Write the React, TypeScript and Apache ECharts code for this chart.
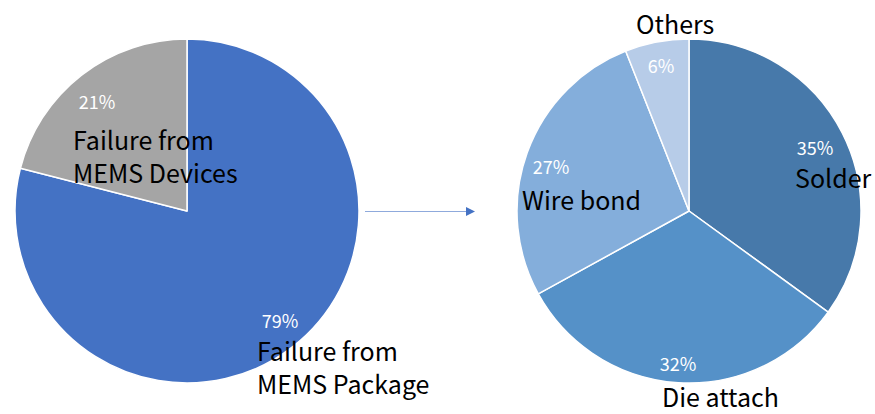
import React, { useEffect, useRef } from "react";
import * as echarts from "echarts";

const leftNames = ["Failure from\nMEMS Package", "Failure from\nMEMS Devices"];
const leftValues = [79, 21];
const leftColors = ["#4472C4", "#A5A5A5"];

const rightNames = ["Solder", "Die attach", "Wire bond", "Others"];
const rightValues = [35, 32, 27, 6];
const rightColors = ["#4779AA", "#5591C8", "#84AEDB", "#B7CCE8"];

// label anchor positions (pixel), [x, y, align]
const leftPctPos: [number, number, string][] = [
  [280, 320, "center"],
  [97, 101, "center"],
];
const leftNamePos: [number, number, string][] = [
  [257, 366, "left"],
  [73, 155, "left"],
];
const rightPctPos: [number, number, string][] = [
  [815, 147, "center"],
  [678, 363, "center"],
  [551, 166, "center"],
  [661, 65, "center"],
];
const rightNamePos: [number, number, string][] = [
  [795, 177, "left"],
  [662, 396, "left"],
  [522, 199, "left"],
  [636, 23, "left"],
];

const FONT = "'Noto Sans CJK SC', 'Noto Sans', sans-serif";

function layoutFrom(pos: [number, number, string][]) {
  return (params: any) => {
    const p = pos[params.dataIndex];
    return { x: p[0], y: p[1], align: p[2], verticalAlign: "middle", hideOverlap: false, moveOverlap: false };
  };
}

function pctSeries(center: number[], names: string[], values: number[], colors: string[], pos: any) {
  return {
    type: "pie",
    center,
    radius: 172,
    startAngle: 90,
    clockwise: true,
    silent: true,
    data: names.map((n, i) => ({ name: n, value: values[i], itemStyle: { color: colors[i] } })),
    itemStyle: { borderColor: "#ffffff", borderWidth: 1.5 },
    label: {
      show: true,
      position: "inside",
      overflow: "none",
      formatter: (p: any) => p.value + "%",
      color: "#ffffff",
      fontSize: 18,
      lineHeight: 18,
      fontFamily: FONT,
    },
    labelLine: { show: false },
    labelLayout: layoutFrom(pos),
    emphasis: { disabled: true },
  };
}

function nameSeries(center: number[], names: string[], values: number[], pos: any, lineHeight: number) {
  return {
    type: "pie",
    center,
    radius: 172,
    startAngle: 90,
    clockwise: true,
    silent: true,
    z: 5,
    data: names.map((n, i) => ({ name: n, value: values[i] })),
    itemStyle: { color: "rgba(0,0,0,0)", borderWidth: 0 },
    label: {
      show: true,
      position: "inside",
      overflow: "none",
      formatter: "{b}",
      color: "#000000",
      fontSize: 25,
      lineHeight,
      fontFamily: FONT,
    },
    labelLine: { show: false },
    labelLayout: layoutFrom(pos),
    emphasis: { disabled: true },
  };
}

export default function App() {
  const ref = useRef<HTMLDivElement>(null);
  useEffect(() => {
    document.body.style.margin = "0";
    const chart = echarts.init(ref.current!, null, { renderer: "svg" });
    chart.setOption({
      animation: false,
      backgroundColor: "#ffffff",
      series: [
        pctSeries([187, 211], leftNames, leftValues, leftColors, leftPctPos),
        nameSeries([187, 211], leftNames, leftValues, leftNamePos, 33),
        pctSeries([689, 211], rightNames, rightValues, rightColors, rightPctPos),
        nameSeries([689, 211], rightNames, rightValues, rightNamePos, 26),
      ],
      graphic: [
        {
          type: "line",
          shape: { x1: 365, y1: 211.5, x2: 468, y2: 211.5 },
          style: { stroke: "#8FAADC", lineWidth: 1.2 },
        },
        {
          type: "polygon",
          shape: { points: [[466, 207], [475, 211.5], [466, 216]] },
          style: { fill: "#4472C4" },
        },
      ],
    });
    return () => chart.dispose();
  }, []);
  return <div ref={ref} style={{ width: 875, height: 414 }} />;
}
